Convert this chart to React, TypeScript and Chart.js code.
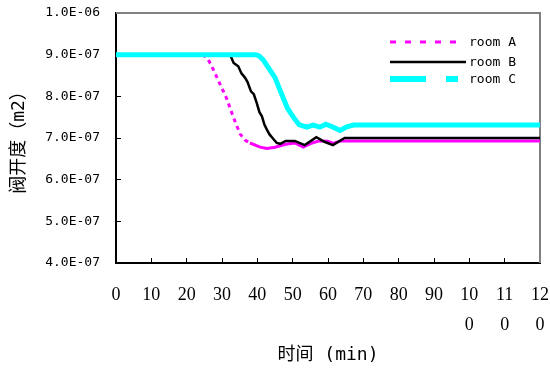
import React, { useEffect, useRef } from "react";
import { Chart, registerables } from "chart.js";

Chart.register(...registerables);

const seriesNames = ["room A", "room B", "room C"];
const seriesColors = ["#FF00FF", "#000000", "#00FFFF"];

const timeA = [0, 24.5, 26, 27.5, 29.4, 31.3, 33.2, 35.1, 36.5, 37.9, 40.8, 42.7, 45, 48, 50.6, 53, 55.5, 57.5, 60, 61.5, 63.5, 120];
const valueA = [9.0e-7, 9.0e-7, 8.9e-7, 8.65e-7, 8.3e-7, 7.95e-7, 7.5e-7, 7.1e-7, 6.95e-7, 6.88e-7, 6.78e-7, 6.75e-7, 6.78e-7, 6.85e-7, 6.88e-7, 6.78e-7, 6.88e-7, 6.93e-7, 6.92e-7, 6.87e-7, 6.93e-7, 6.93e-7];

const timeB = [0, 32.3, 33.3, 34.6, 35.5, 36.5, 37.2, 38.2, 39.0, 39.8, 40.6, 41.3, 42.0, 42.7, 43.5, 44.3, 45.5, 46.5, 48, 50.6, 53.4, 56.7, 59, 61.4, 64.7, 120];
const valueB = [9.0e-7, 9.0e-7, 8.8e-7, 8.72e-7, 8.55e-7, 8.45e-7, 8.35e-7, 8.12e-7, 8.05e-7, 7.85e-7, 7.62e-7, 7.52e-7, 7.32e-7, 7.2e-7, 7.08e-7, 7.0e-7, 6.88e-7, 6.86e-7, 6.93e-7, 6.93e-7, 6.83e-7, 7.02e-7, 6.91e-7, 6.83e-7, 7.0e-7, 7.0e-7];

const timeC = [0, 39.5, 40.5, 41.7, 43.6, 45, 46.9, 48.5, 50.2, 51.8, 54, 55.8, 57.7, 59.4, 61.5, 63.4, 65.3, 67.2, 120];
const valueC = [9.0e-7, 9.0e-7, 8.97e-7, 8.87e-7, 8.63e-7, 8.45e-7, 8.05e-7, 7.72e-7, 7.5e-7, 7.32e-7, 7.26e-7, 7.31e-7, 7.26e-7, 7.33e-7, 7.26e-7, 7.18e-7, 7.27e-7, 7.31e-7, 7.31e-7];

const xMin = 0;
const xMax = 120;
const xStep = 10;
const yMin = 4e-7;
const yMax = 1e-6;
const yStep = 1e-7;

const xTitle = "时间 (min)";
const yTitle = "阀开度（m2）";

// range (minutes) where room A's line is drawn dashed
const dashedRangeA = [24, 40];

const legendDashes = [[6, 9], [], [36, 20]];
const legendWidths = [3, 2.5, 6];

const monoFont = "'DejaVu Sans Mono', 'Noto Sans CJK SC', monospace";

function fmtExp(v: number): string {
  const [m, e] = v.toExponential(1).split("e");
  const n = parseInt(e, 10);
  return `${m}E${n < 0 ? "-" : "+"}${String(Math.abs(n)).padStart(2, "0")}`;
}

function fmtX(v: number): string | string[] {
  const s = String(Math.round(v));
  if (s.length > 2) return [s.slice(0, 2), s.slice(2)];
  return s;
}

const toPoints = (t: number[], v: number[]) => t.map((x, i) => ({ x, y: v[i] }));

const noPad = (s: any) => {
  s.paddingLeft = 0;
  s.paddingRight = 0;
  s.paddingTop = 0;
  s.paddingBottom = 0;
};

const framePlugin = {
  id: "frame",
  beforeDatasetsDraw(chart: any) {
    const { ctx, chartArea: a } = chart;
    ctx.save();
    ctx.strokeStyle = "#808080";
    ctx.lineWidth = 2;
    ctx.beginPath();
    ctx.moveTo(a.left, a.top);
    ctx.lineTo(a.right, a.top);
    ctx.lineTo(a.right, a.bottom);
    ctx.stroke();
    ctx.restore();
  },
};

const legendPlugin = {
  id: "customLegend",
  afterDraw(chart: any) {
    const { ctx } = chart;
    const rows = [42, 62, 79];
    ctx.save();
    seriesNames.forEach((name, i) => {
      const y = rows[i];
      ctx.strokeStyle = seriesColors[i];
      ctx.lineWidth = legendWidths[i];
      ctx.setLineDash(legendDashes[i]);
      ctx.beginPath();
      ctx.moveTo(390, y);
      ctx.lineTo(i === 1 ? 466 : 458, y);
      ctx.stroke();
      ctx.setLineDash([]);
      ctx.fillStyle = "#000";
      ctx.font = `13px ${monoFont}`;
      ctx.textBaseline = "middle";
      ctx.textAlign = "left";
      ctx.fillText(name, 469, y + 1);
    });
    ctx.restore();
  },
};

export default function App() {
  const ref = useRef<HTMLCanvasElement | null>(null);
  useEffect(() => {
    document.body.style.margin = "0";
    if (!ref.current) return;
    const chart = new Chart(ref.current, {
      type: "line",
      data: {
        datasets: [
          {
            label: seriesNames[0],
            data: toPoints(timeA, valueA),
            borderColor: seriesColors[0],
            borderWidth: 3,
            pointRadius: 0,
            order: 2,
            segment: {
              borderDash: (c: any) =>
                c.p0.parsed.x >= dashedRangeA[0] && c.p1.parsed.x <= dashedRangeA[1] ? [4, 4] : undefined,
            },
          },
          {
            label: seriesNames[1],
            data: toPoints(timeB, valueB),
            borderColor: seriesColors[1],
            borderWidth: 2.5,
            pointRadius: 0,
            order: 1,
          },
          {
            label: seriesNames[2],
            data: toPoints(timeC, valueC),
            borderColor: seriesColors[2],
            borderWidth: 5,
            pointRadius: 0,
            order: 0,
          },
        ],
      },
      options: {
        animation: false,
        responsive: false,
        maintainAspectRatio: false,
        layout: { padding: { left: 0, right: 10, top: 13, bottom: 0 } },
        plugins: { legend: { display: false }, tooltip: { enabled: false } },
        elements: { line: { tension: 0 }, point: { radius: 0 } },
        scales: {
          x: {
            type: "linear",
            min: xMin,
            max: xMax,
            ticks: {
              stepSize: xStep,
              autoSkip: false,
              maxRotation: 0,
              padding: 22,
              color: "#000",
              font: { family: "'Liberation Serif', 'Times New Roman', serif", size: 18, lineHeight: 1.67 },
              callback: (v: any) => fmtX(Number(v)),
            },
            grid: { drawOnChartArea: false, drawTicks: true, tickLength: -5, color: "#000", lineWidth: 1 },
            border: { color: "#000", width: 2 },
            title: {
              display: true,
              text: xTitle,
              color: "#000",
              font: { family: monoFont, size: 18 },
              padding: { top: 0, bottom: 3 },
            },
            afterFit: (s: any) => {
              s.height = 106;
              noPad(s);
            },
          },
          y: {
            type: "linear",
            min: yMin,
            max: yMax,
            ticks: {
              stepSize: yStep,
              padding: 21,
              color: "#000",
              font: { family: monoFont, size: 13 },
              callback: (v: any) => fmtExp(Number(v)),
            },
            grid: { drawOnChartArea: false, drawTicks: true, tickLength: -5, color: "#000", lineWidth: 1 },
            border: { color: "#000", width: 2 },
            title: {
              display: true,
              text: yTitle,
              color: "#000",
              font: { family: monoFont, size: 18 },
              padding: { top: 9, bottom: 0 },
            },
            afterFit: (s: any) => {
              s.width = 116;
              noPad(s);
            },
          },
        },
      },
      plugins: [framePlugin, legendPlugin],
    } as any);
    return () => chart.destroy();
  }, []);
  return (
    <div style={{ width: 550, height: 369 }}>
      <canvas ref={ref} width={550} height={369} style={{ display: "block", width: 550, height: 369 }} />
    </div>
  );
}
